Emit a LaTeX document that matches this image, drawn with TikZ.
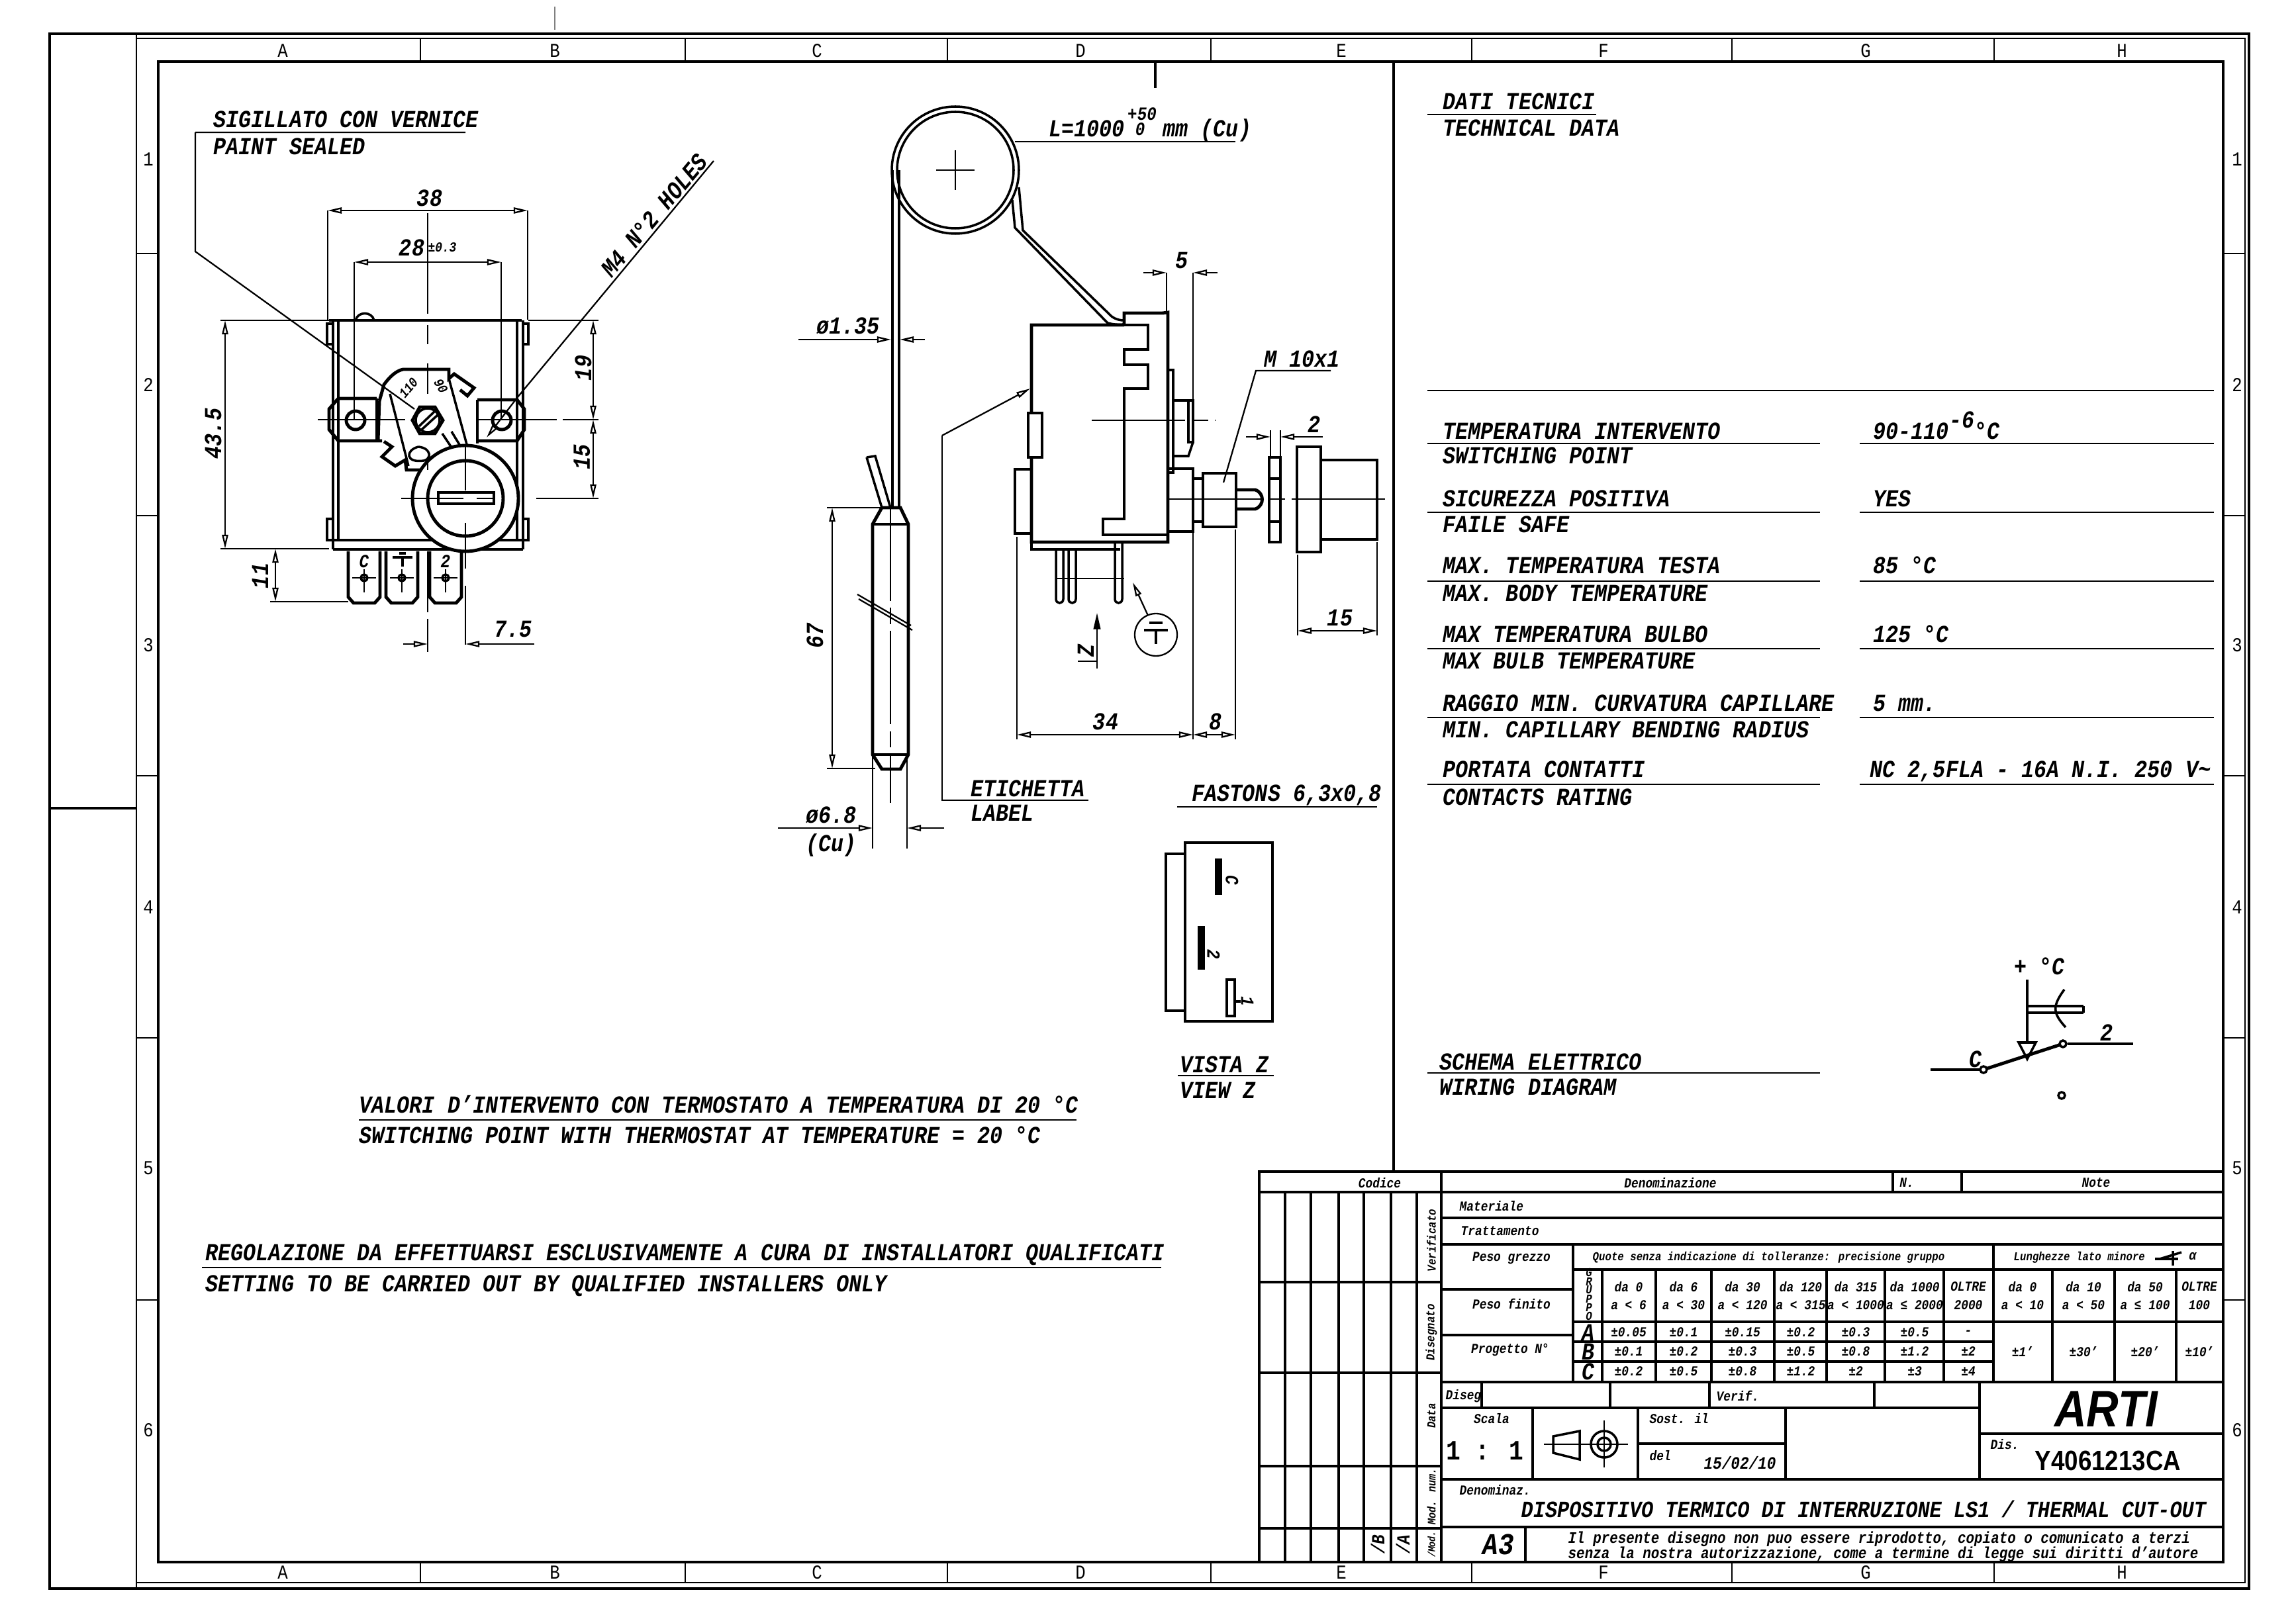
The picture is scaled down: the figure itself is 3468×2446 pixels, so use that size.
\documentclass[tikz,border=0pt]{standalone}
\usepackage{fontspec}
\setmainfont[FakeStretch=.86]{Liberation Mono}
\newfontfamily\artifont[FakeStretch=.87]{Liberation Sans}
\usetikzlibrary{arrows.meta,positioning}
\newcommand{\cadb}{\fontsize{10.5}{12}\bfseries\itshape\selectfont}
\newcommand{\cadt}{\fontsize{8}{9}\bfseries\itshape\selectfont}
\newcommand{\cads}{\fontsize{5.9}{7}\bfseries\itshape\selectfont}
\newcommand{\cadq}{\fontsize{5.2}{6}\bfseries\itshape\selectfont}
\newcommand{\cadn}{\fontsize{6.9}{8}\bfseries\itshape\selectfont}
\newcommand{\cadv}{\fontsize{5.2}{6}\bfseries\itshape\selectfont}
\tikzset{
  hv/.style={line width=1.4pt},
  med/.style={line width=1pt},
  thn/.style={line width=.65pt},
  axis/.style={line width=.65pt,dash pattern=on 40pt off 3pt on 7pt off 3pt},
  dimm/.style={line width=.65pt,{Triangle[open,length=6pt,width=2.6pt]}-{Triangle[open,length=6pt,width=2.6pt]}},
  dimr/.style={line width=.65pt,-{Triangle[open,length=6pt,width=2.6pt]}},
  lab/.style={anchor=base west,inner sep=0pt,font=\cadb},
  num/.style={inner sep=0pt,font=\cadb},
  sml/.style={inner sep=0pt,font=\cads},
  sml l/.style={anchor=west,inner sep=0pt,font=\cads},
  trm/.style={inner sep=0pt,font=\cadt},
  vrt/.style={inner sep=0pt,rotate=90,font=\cadv},
  zone/.style={inner sep=0pt,font=\fontsize{8.5}{9}\selectfont},
}
\begin{document}
\begin{tikzpicture}[x=0.01cm,y=-0.01cm]
  \useasboundingbox (0,0) rectangle (3468,2446);
  \fill[white] (0,0) rectangle (3468,2446);
  \draw[med] (75,51) rectangle (3397,2400);
  \draw[thn] (206,58) rectangle (3391,2391);
  \draw[hv] (239,93) rectangle (3358,2360);
  \draw[hv] (75,1221) -- (206,1221);
  \draw[thn] (206,51) -- (206,2400);
  \draw[thn,gray] (838,10) -- (838,45);
  \foreach \x in {635,1035,1431,1829,2223,2616,3012} {
    \draw[thn] (\x,58) -- (\x,93);
    \draw[thn] (\x,2360) -- (\x,2391);
  }
  \foreach \y in {383,779,1172,1568,1964} {
    \draw[thn] (206,\y) -- (239,\y);
    \draw[thn] (3358,\y) -- (3391,\y);
  }
  \foreach \t/\x in {A/427,B/838,C/1234,D/1632,E/2026,F/2422,G/2818,H/3205} {
    \node[zone] (top\t) at (\x,77) {\t};
    \node[zone] (bot\t) at (\x,2376) {\t};
  }
  \foreach \t/\y in {1/241,2/582,3/975,4/1371,5/1765,6/2161} {
    \node[zone] (lft\t) at (224,\y) {\t};
    \node[zone] (rgt\t) at (3379,\y) {\t};
  }
  \draw[hv] (2105,93) -- (2105,1770);
  \draw[hv] (1745,93) -- (1745,133);

  % front view
  \draw[thn] (295,200) -- (703,200) (295,200) -- (295,380) -- (626,618);
  \node[lab] (sealit) at (322,193) {SIGILLATO CON VERNICE};
  \node[lab] (sealen) at (322,234) {PAINT SEALED};
  \draw[hv] (497,484) -- (788,484);
  \draw[hv] (503,484) -- (503,830) (511,484) -- (511,816);
  \draw[hv] (790,484) -- (790,830) (781,484) -- (781,816);
  \draw[hv] (503,816) -- (790,816);
  \draw[hv] (503,830) -- (790,830);
  \draw[med] (503,489) -- (494,489) -- (494,520) -- (503,520);
  \draw[med] (503,784) -- (494,784) -- (494,816) -- (503,816);
  \draw[med] (790,489) -- (798,489) -- (798,520) -- (790,520);
  \draw[med] (790,784) -- (798,784) -- (798,816) -- (790,816);
  \draw[med] (537,484) .. controls (540,470) and (562,470) .. (565,484);
  \draw[hv] (569,602) -- (511,602) -- (497,618) -- (497,649) -- (511,666) -- (577,666);
  \draw[hv] (569,602) -- (569,666);
  \draw[hv] (537,635) circle (14);
  \draw[hv] (721,604) -- (781,604) -- (792,618) -- (792,649) -- (781,666) -- (721,666);
  \draw[hv] (721,604) -- (721,670);
  \draw[hv] (758,635) circle (14);
  \draw[hv] (573,606) -- (580,581) .. controls (588,570) and (598,560) .. (609,558) -- (678,558) -- (678,572) -- (686,565) -- (716,586) -- (706,598) -- (695,589);
  \draw[hv] (580,667) -- (592,675) -- (577,690) -- (597,704) -- (612,695) -- (614,710) -- (646,710);
  \draw[hv] (573,606) -- (571,666);
  \draw[med] (589,595) -- (617,704) (678,572) -- (706,675);
  \draw[hv] (669,635) -- (657,615) -- (634,615) -- (623,635) -- (634,655) -- (657,655) -- cycle;
  \draw[med] (646,635) circle (18);
  \draw[med] (633,644) -- (656,622) (637,649) -- (661,627);
  \draw[med] (632,675) .. controls (612,680) and (612,700) .. (640,696) .. controls (652,694) and (652,677) .. (632,675);
  \draw[med] (668,655) -- (686,682) (682,652) -- (696,675);
  \node[inner sep=0pt,rotate=50,font=\cads] (scalelo) at (617,586) {110};
  \node[inner sep=0pt,rotate=-60,font=\cads] (scalehi) at (666,583) {90};
  \draw[fill=white,hv] (703,753) circle (80);
  \draw[hv] (703,753) circle (57);
  \draw[hv] (662,744) rectangle (746,761);
  \draw[thn] (646,322) -- (646,474) (646,491) -- (646,520) (646,549) -- (646,595) (646,690) -- (646,710) (646,833) -- (646,925) (646,935) -- (646,985);
  \draw[thn] (703,675) -- (703,741) (703,790) -- (703,859) (703,885) -- (703,974);
  \draw[thn] (606,753) -- (700,753) (720,753) -- (746,753) (810,753) -- (904,753);
  \draw[thn] (480,634) -- (612,634) (720,634) -- (841,634) (850,634) -- (904,634);
  \foreach \x in {526,583,649} {
    \draw[hv] (\x,833) -- (\x,902) -- ({\x+8},911) -- ({\x+40},911) -- ({\x+48},902) -- ({\x+48},833);
    \draw[thn] ({\x+24},860) -- ({\x+24},895) ({\x+6},873) -- ({\x+42},873);
    \draw[med] ({\x+24},873) circle (5);
  }
  \node[trm] (termc) at (550,848) {C};
  \node[trm] (termb) at (673,848) {2};
  \draw[hv] (593,842) -- (623,842);
  \draw[med] (603,836) -- (613,836);
  \draw[med] (608,842) -- (608,856);

  \draw[dimm] (495,318) -- (797,318);
  \draw[thn] (495,318) -- (495,483) (797,318) -- (797,483);
  \node[num] (d38) at (649,299) {38};
  \draw[dimm] (535,396) -- (757,396);
  \draw[thn] (535,396) -- (535,634) (757,396) -- (757,634);
  \node[num] (d28) at (622,374) {28};
  \node[sml] (d28t) at (668,374) {±0.3};
  \draw[dimm] (340,484) -- (340,829);
  \draw[thn] (333,484) -- (497,484) (333,829) -- (497,829);
  \node[num,rotate=90] (d435) at (322,655) {43.5};
  \draw[dimm] (416,829) -- (416,909);
  \draw[thn] (408,909) -- (526,909);
  \node[num,rotate=90] (d11) at (393,870) {11};
  \draw[thn] (798,484) -- (904,484);
  \draw[dimm] (896,484) -- (896,634);
  \draw[dimm] (896,634) -- (896,753);
  \node[num,rotate=90] (d19) at (881,556) {19};
  \node[num,rotate=90] (d15) at (879,690) {15};
  \draw[dimr] (609,973) -- (646,973);
  \draw[dimr] (807,973) -- (703,973);
  \node[num] (d75) at (775,951) {7.5};
  \draw[thn] (1078,243) -- (781,601);
  \draw[dimr] (781,601) -- (735,661);
  \node[num,rotate=50] (holes) at (988,325) {M4 N°2 HOLES};

  % side view
  \draw[med] (1443,257) circle (96);
  \draw[med] (1443,257) circle (88);
  \draw[thn] (1414,257) -- (1472,257) (1443,227) -- (1443,287);
  \draw[med] (1348,257) -- (1348,767);
  \draw[med] (1358,257) -- (1358,767);
  \draw[med] (1539,283) -- (1545,348) -- (1679,478) .. controls (1686,483) and (1692,484) .. (1698,484);
  \draw[med] (1529,302) -- (1533,344) -- (1673,488) .. controls (1680,490) and (1690,491) .. (1698,490);
  \draw[thn] (1533,214) -- (1866,214);
  \node[lab] (lcap) at (1584,207) {L=1000};
  \node[inner sep=0pt,font=\cadt] (ltolhi) at (1725,172) {+50};
  \node[inner sep=0pt,font=\cadt] (ltollo) at (1722,195) {0};
  \node[lab] (lunit) at (1756,207) {mm (Cu)};
  \draw[hv] (1698,491) -- (1558,491) -- (1558,819) -- (1764,819) -- (1764,472) -- (1756,473) -- (1698,473) -- (1698,491);
  \draw[hv] (1698,491) -- (1734,491) -- (1734,528) -- (1698,528) -- (1698,551) -- (1734,551) -- (1734,587) -- (1698,587) -- (1698,784) -- (1666,784) -- (1666,808) -- (1764,808);
  \draw[med] (1558,819) -- (1558,830) -- (1692,830);
  \draw[hv,fill=white] (1553,624) rectangle (1574,691);
  \draw[hv] (1558,709) -- (1533,709) -- (1533,806) -- (1558,806);
  \draw[med] (1764,559) -- (1772,559) -- (1772,714) -- (1764,714);
  \draw[med] (1772,605) -- (1802,605) -- (1802,668) -- (1795,668) -- (1795,605);
  \draw[med] (1772,689) -- (1795,689) -- (1802,668);
  \draw[hv] (1765,708) -- (1802,708) -- (1802,803) -- (1765,803);
  \draw[hv] (1802,723) -- (1817,723) (1802,788) -- (1817,788);
  \draw[hv] (1817,715) rectangle (1867,796);
  \draw[hv] (1867,740) -- (1896,740) .. controls (1910,745) and (1910,764) .. (1896,769) -- (1867,769);
  \draw[hv] (1917,691) rectangle (1934,819);
  \draw[med] (1917,723) -- (1934,723) (1917,788) -- (1934,788);
  \draw[hv] (1959,675) rectangle (1995,834);
  \draw[hv] (1995,695) -- (2080,695) -- (2080,815) -- (1995,815);
  \draw[axis] (1765,754) -- (2103,754);
  \draw[axis] (1649,635) -- (1836,635);
  \foreach \x/\w in {1595/830,1614/830,1684/820} {
    \draw[med] (\x,\w) -- (\x,905) .. controls ({\x},913) and ({\x+11},913) .. ({\x+11},905) -- ({\x+11},\w);
  }
  \draw[thn] (1596,874) -- (1698,874);
  \draw[thn] (1746,959) circle (32);
  \draw[hv] (1728,952) -- (1764,952) (1736,941) -- (1756,941);
  \draw[hv] (1746,952) -- (1746,973);
  \draw[dimr] (1734,930) -- (1711,880);
  \draw[-{Triangle[length=7pt,width=3pt]},thn] (1657,1010) -- (1657,926);
  \draw[thn] (1628,999) -- (1657,999);
  \node[lab,rotate=90] (viewz) at (1652,993) {Z};

  \draw[dimr] (1727,412) -- (1762,412);
  \draw[dimr] (1839,412) -- (1802,412);
  \draw[thn] (1762,412) -- (1762,470) (1802,412) -- (1802,605) (1802,803) -- (1802,1117);
  \node[num] (d5) at (1785,394) {5};
  \draw[dimr] (1206,513) -- (1346,513);
  \draw[dimr] (1397,513) -- (1359,513);
  \node[lab] (dcap) at (1233,505) {ø1.35};
  \draw[thn] (2010,560) -- (1897,560) -- (1848,729);
  \node[lab] (mthr) at (1909,555) {M 10x1};
  \draw[dimr] (1882,660) -- (1919,660);
  \draw[dimr] (1998,660) -- (1934,660);
  \draw[thn] (1919,650) -- (1919,691) (1934,650) -- (1934,691);
  \node[num] (d2) at (1985,641) {2};
  \draw[dimm] (1960,953) -- (2080,953);
  \draw[thn] (1960,838) -- (1960,960) (2080,819) -- (2080,960);
  \node[num] (d15r) at (2024,934) {15};
  \draw[dimm] (1536,1110) -- (1802,1110);
  \draw[thn] (1536,811) -- (1536,1117);
  \node[num] (d34) at (1670,1090) {34};
  \draw[dimm] (1802,1110) -- (1866,1110);
  \draw[thn] (1866,800) -- (1866,1117);
  \node[num] (d8) at (1836,1090) {8};
  \draw[dimr] (1423,658) -- (1556,587);
  \draw[thn] (1423,658) -- (1423,1209) -- (1644,1209);
  \node[lab] (etichetta) at (1466,1204) {ETICHETTA};
  \node[lab] (labelen) at (1466,1241) {LABEL};
  \draw[thn] (1778,1219) -- (2080,1219);
  \node[lab] (fastons) at (1800,1211) {FASTONS 6,3x0,8};

  % bulb
  \draw[hv] (1318,792) -- (1332,767) -- (1360,767) -- (1372,792) -- (1372,1140) -- (1360,1162) -- (1332,1162) -- (1318,1140) -- cycle;
  \draw[med] (1318,792) -- (1372,792) (1318,1140) -- (1372,1140);
  \draw[med] (1309,691) -- (1322,689) -- (1345,767) (1309,691) -- (1332,767);
  \draw[axis] (1345,767) -- (1345,1213);
  \draw[thn] (1295,898) -- (1376,945) (1297,905) -- (1378,952);
  \draw[dimm] (1257,767) -- (1257,1161);
  \draw[thn] (1249,767) -- (1332,767) (1249,1161) -- (1322,1161);
  \node[num,rotate=90] (d67) at (1231,960) {67};
  \draw[thn] (1318,1140) -- (1318,1282) (1370,1140) -- (1370,1282);
  \draw[dimr] (1175,1251) -- (1318,1251);
  \draw[dimr] (1426,1251) -- (1370,1251);
  \node[lab] (dbulb) at (1217,1243) {ø6.8};
  \node[lab] (dbulbcu) at (1217,1287) {(Cu)};

  % view z
  \draw[hv] (1790,1273) rectangle (1922,1543);
  \draw[hv] (1790,1290) -- (1761,1290) -- (1761,1527) -- (1790,1527);
  \fill (1835,1297) rectangle (1846,1352);
  \fill (1809,1399) rectangle (1820,1465);
  \draw[med] (1853,1480) rectangle (1865,1535);
  \draw[hv] (1865,1513) -- (1874,1513);
  \node[trm,rotate=-90] (zc) at (1861,1330) {C};
  \node[trm,rotate=-90] (z2) at (1833,1442) {2};
  \node[trm,rotate=-90] (z1) at (1884,1513) {1};
  \draw[thn] (1779,1625) -- (1924,1625);
  \node[lab] (vistaz) at (1782,1620) {VISTA Z};
  \node[lab] (viewen) at (1782,1659) {VIEW Z};

  % notes
  \draw[thn] (542,1692) -- (1626,1692);
  \node[lab] (valori) at (542,1681) {VALORI D'INTERVENTO CON TERMOSTATO A TEMPERATURA DI 20 °C};
  \node[lab] (switch) at (542,1727) {SWITCHING POINT WITH THERMOSTAT AT TEMPERATURE = 20 °C};
  \draw[thn] (305,1915) -- (1754,1915);
  \node[lab] (regola) at (310,1904) {REGOLAZIONE DA EFFETTUARSI ESCLUSIVAMENTE A CURA DI INSTALLATORI QUALIFICATI};
  \node[lab] (setting) at (310,1951) {SETTING TO BE CARRIED OUT BY QUALIFIED INSTALLERS ONLY};

  % technical data
  \draw[thn] (2156,173) -- (2411,173);
  \node[lab] (datit) at (2179,166) {DATI TECNICI};
  \node[lab] (datie) at (2179,206) {TECHNICAL DATA};
  \draw[thn] (2156,590) -- (3344,590);
  \foreach \y in {670,774,878,980,1084,1185} {
    \draw[thn] (2156,\y) -- (2749,\y);
    \draw[thn] (2809,\y) -- (3344,\y);
  }
  \node[lab] (t1) at (2179,664) {TEMPERATURA INTERVENTO};
  \node[lab] (e1) at (2179,701) {SWITCHING POINT};
  \node[lab] (v1) at (2829,664) {90-110\raisebox{5pt}{-6}°C};
  \node[lab] (t2) at (2179,766) {SICUREZZA POSITIVA};
  \node[lab] (e2) at (2179,805) {FAILE SAFE};
  \node[lab] (v2) at (2829,766) {YES};
  \node[lab] (t3) at (2179,867) {MAX. TEMPERATURA TESTA};
  \node[lab] (e3) at (2179,909) {MAX. BODY TEMPERATURE};
  \node[lab] (v3) at (2829,867) {85 °C};
  \node[lab] (t4) at (2179,971) {MAX TEMPERATURA BULBO};
  \node[lab] (e4) at (2179,1011) {MAX BULB TEMPERATURE};
  \node[lab] (v4) at (2829,971) {125 °C};
  \node[lab] (t5) at (2179,1075) {RAGGIO MIN. CURVATURA CAPILLARE};
  \node[lab] (e5) at (2179,1115) {MIN. CAPILLARY BENDING RADIUS};
  \node[lab] (v5) at (2829,1075) {5 mm.};
  \node[lab] (t6) at (2179,1175) {PORTATA CONTATTI};
  \node[lab] (e6) at (2179,1217) {CONTACTS RATING};
  \node[lab] (v6) at (2824,1175) {NC 2,5FLA - 16A N.I. 250 V\textasciitilde};

  % wiring
  \draw[thn] (2156,1621) -- (2749,1621);
  \node[lab] (schema) at (2174,1616) {SCHEMA ELETTRICO};
  \node[lab] (wiring) at (2174,1654) {WIRING DIAGRAM};
  \node[lab] (plusc) at (3042,1472) {+ °C};
  \draw[hv] (3062,1480) -- (3062,1575);
  \draw[med] (3049,1575) -- (3075,1575) -- (3062,1600) -- cycle;
  \draw[hv] (2996,1616) -- (3116,1577);
  \draw[hv] (2916,1616) -- (2990,1616) (3123,1577) -- (3222,1577);
  \draw[med,fill=white] (2996,1616) circle (5) (3116,1577) circle (5);
  \draw[med] (3114,1655) circle (5);
  \draw[hv] (3062,1520) -- (3147,1520) (3062,1530) -- (3147,1530) (3147,1520) -- (3147,1530);
  \draw[med] (3118,1495) .. controls (3100,1520) and (3100,1530) .. (3120,1552);
  \node[lab] (wc) at (2974,1612) {C};
  \node[lab] (w2) at (3172,1572) {2};

  % title block
  \draw[hv] (1902,1770) rectangle (3358,2360);
  \draw[hv] (1902,1801) -- (3358,1801);
  \draw[hv] (2177,1770) -- (2177,2360);
  \foreach \x in {1941,1980,2022,2060,2101,2140} { \draw[med] (\x,1801) -- (\x,2360); }
  \foreach \y in {1937,2074,2215,2309} { \draw[med] (1902,\y) -- (2177,\y); }
  \draw[med] (2859,1770) -- (2859,1801) (2963,1770) -- (2963,1801);
  \draw[hv] (2177,1840) -- (3358,1840);
  \draw[hv] (2177,1880) -- (3358,1880);
  \draw[hv] (2177,2088) -- (3358,2088);
  \draw[hv] (2177,2127) -- (2990,2127);
  \draw[hv] (2177,2235) -- (3358,2235);
  \draw[hv] (2177,2307) -- (3358,2307);
  \draw[hv] (2376,1880) -- (2376,2088);
  \draw[med] (2177,1948) -- (2376,1948) (2177,2017) -- (2376,2017);
  \draw[hv] (2376,1918) -- (3358,1918);
  \draw[hv] (2376,1997) -- (3358,1997);
  \draw[hv] (2376,2027) -- (3011,2027);
  \draw[hv] (2376,2057) -- (3011,2057);
  \draw[hv] (3011,1880) -- (3011,2088);
  \foreach \x in {2420,2501,2585,2680,2759,2847,2936} { \draw[med] (\x,1918) -- (\x,2088); }
  \foreach \x in {3100,3194,3287} { \draw[med] (\x,1918) -- (\x,2088); }
  \draw[hv] (2238,2088) -- (2238,2127);
  \draw[med] (2432,2088) -- (2432,2127) (2582,2088) -- (2582,2127) (2831,2088) -- (2831,2127);
  \draw[hv] (2990,2088) -- (2990,2235);
  \draw[med] (2315,2127) -- (2315,2235) (2474,2127) -- (2474,2235) (2697,2127) -- (2697,2235);
  \draw[hv] (2474,2181) -- (2697,2181);
  \draw[hv] (2990,2166) -- (3358,2166);
  \draw[hv] (2304,2307) -- (2304,2360);

  \node[sml] (hcod) at (2084,1787) {Codice};
  \node[sml] (hden) at (2523,1787) {Denominazione};
  \node[sml] (hn) at (2880,1787) {N.};
  \node[sml] (hnote) at (3166,1787) {Note};
  \node[sml l] (mat) at (2204,1822) {Materiale};
  \node[sml l] (trat) at (2206,1860) {Trattamento};
  \node[sml] (pg) at (2283,1901) {Peso grezzo};
  \node[sml] (pf) at (2283,1970) {Peso finito};
  \node[sml] (pn) at (2281,2039) {Progetto N°};
  \node[anchor=west,inner sep=0pt,font=\cadq] (quote) at (2405,1900) {Quote senza indicazione di tolleranze: precisione gruppo};
  \node[anchor=west,inner sep=0pt,font=\cadq] (lung) at (3041,1900) {Lunghezze lato minore};
  \draw[hv] (3255,1902) -- (3290,1902);
  \draw[med] (3262,1902) -- (3295,1892) (3282,1890) -- (3282,1912);
  \node[sml] (alfa) at (3312,1898) {α};
  \node[vrt] (rver) at (2162,1874) {Verificato};
  \node[vrt] (rdis) at (2162,2013) {Disegnato};
  \node[vrt] (rdat) at (2162,2139) {Data};
  \node[vrt,font=\fontsize{5}{6}\bfseries\itshape\selectfont] (rmod) at (2162,2261) {Mod. num.};
  \node[vrt,font=\fontsize{4.4}{5}\bfseries\itshape\selectfont] (rmd) at (2162,2333) {/Mod.};
  \node[vrt,font=\cadt] (rb) at (2081,2333) {/B};
  \node[vrt,font=\cadt] (ra) at (2119,2333) {/A};
  \foreach \t/\n/\y in {G/g1/1922,R/g2/1936,U/g3/1949,P/g4/1962,P/g5/1975,O/g6/1988} {
    \node[inner sep=0pt,font=\cadq] (\n) at (2400,\y) {\t};
  }
  \node[num] (ga) at (2399,2013) {A};
  \node[num] (gb) at (2399,2042) {B};
  \node[num] (gc) at (2399,2072) {C};
  \foreach \x/\a/\b/\ra/\rb/\rc in {
    2460/da 0/a < 6/±0.05/±0.1/±0.2,
    2543/da 6/a < 30/±0.1/±0.2/±0.5,
    2632/da 30/a < 120/±0.15/±0.3/±0.8,
    2720/da 120/a < 315/±0.2/±0.5/±1.2,
    2803/da 315/a < 1000/±0.3/±0.8/±2,
    2892/da 1000/a ≤ 2000/±0.5/±1.2/±3,
    2973/OLTRE/2000/-/±2/±4} {
    \node[sml] (h\x) at (\x,1944) {\a};
    \node[sml] (l\x) at (\x,1972) {\b};
    \node[sml] (a\x) at (\x,2013) {\ra};
    \node[sml] (b\x) at (\x,2042) {\rb};
    \node[sml] (c\x) at (\x,2072) {\rc};
  }
  \foreach \x/\a/\b/\r in {
    3055/da 0/a < 10/±1',
    3147/da 10/a < 50/±30',
    3240/da 50/a ≤ 100/±20',
    3322/OLTRE/100/±10'} {
    \node[sml] (h\x) at (\x,1944) {\a};
    \node[sml] (l\x) at (\x,1972) {\b};
    \node[sml] (r\x) at (\x,2042) {\r};
  }
  \node[sml l] (dsg) at (2183,2109) {Diseg};
  \node[sml l] (vrf) at (2592,2109) {Verif.};
  \node[sml] (scl) at (2253,2143) {Scala};
  \node[inner sep=0pt,font=\fontsize{12}{14}\bfseries\selectfont] (sclv) at (2243,2192) {1 : 1};
  \draw[med] (2346,2170) -- (2386,2162) -- (2386,2205) -- (2346,2195) -- cycle;
  \draw[med] (2423,2182) circle (20) (2423,2182) circle (10);
  \draw[thn] (2423,2146) -- (2423,2217) (2332,2182) -- (2459,2182);
  \node[sml l] (sost) at (2491,2143) {Sost. il};
  \node[sml l] (del) at (2491,2199) {del};
  \node[inner sep=0pt,font=\fontsize{7.5}{9}\bfseries\itshape\selectfont] (datev) at (2628,2210) {15/02/10};
  \node[inner sep=0pt,font=\artifont\fontsize{22}{24}\bfseries\itshape\selectfont] (arti) at (3181,2129) {ARTI};
  \node[sml l] (dis) at (3006,2182) {Dis.};
  \node[inner sep=0pt,font=\artifont\fontsize{12}{14}\bfseries\selectfont] (code) at (3184,2207) {Y4061213CA};
  \node[sml l] (denz) at (2204,2251) {Denominaz.};
  \node[anchor=west,inner sep=0pt,font=\fontsize{10}{12}\bfseries\itshape\selectfont] (title) at (2297,2280) {DISPOSITIVO TERMICO DI INTERRUZIONE LS1 / THERMAL CUT-OUT};
  \node[inner sep=0pt,font=\fontsize{13}{15}\bfseries\itshape\selectfont] (sheet) at (2263,2333) {A3};
  \node[anchor=west,inner sep=0pt,font=\cadn] (leg1) at (2368,2325) {Il presente disegno non puo essere riprodotto, copiato o comunicato a terzi};
  \node[anchor=west,inner sep=0pt,font=\cadn] (leg2) at (2368,2348) {senza la nostra autorizzazione, come a termine di legge sui diritti d'autore};
\end{tikzpicture}
\end{document}
